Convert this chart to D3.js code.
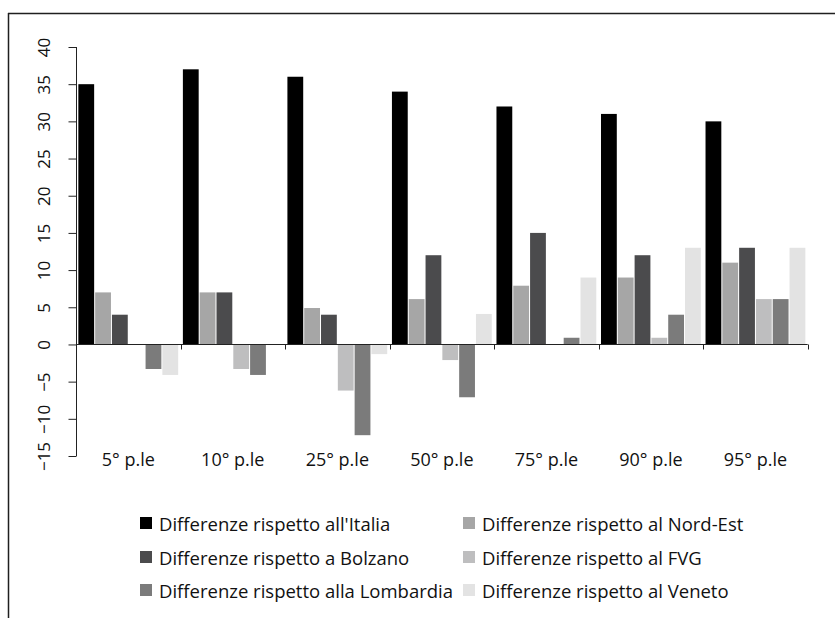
<!DOCTYPE html>
<html>
<head>
<meta charset="utf-8">
<script src="https://cdn.jsdelivr.net/npm/d3@7"></script>
<style>
  html, body { margin: 0; padding: 0; background: #fff; }
  svg { display: block; font-family: "Open Sans", "Noto Sans", sans-serif; }
</style>
</head>
<body>
<svg id="chart" width="835" height="618"></svg>
<script>
// Percentile groups along the x axis
const categories = ["5° p.le", "10° p.le", "25° p.le", "50° p.le", "75° p.le", "90° p.le", "95° p.le"];

// One array per comparison series (values per percentile)
const seriesNames = [
  "Differenze rispetto all'Italia",
  "Differenze rispetto al Nord-Est",
  "Differenze rispetto a Bolzano",
  "Differenze rispetto al FVG",
  "Differenze rispetto alla Lombardia",
  "Differenze rispetto al Veneto"
];
const italia    = [35, 37, 36, 34, 32, 31, 30];
const nordEst   = [7, 7, 4.9, 6.1, 7.9, 9, 11];
const bolzano   = [4, 7, 4, 12, 15, 12, 13];
const fvg       = [0, -3.3, -6.2, -2.1, 0, 0.9, 6.1];
const lombardia = [-3.3, -4.1, -12.2, -7.1, 0.9, 4, 6.1];
const veneto    = [-4.1, 0, -1.3, 4.1, 9, 13, 13];
const seriesColors = ["#000000", "#a6a6a6", "#4b4b4d", "#bebebf", "#7b7b7b", "#e3e3e3"];

const yTicks = [-15, -10, -5, 0, 5, 10, 15, 20, 25, 30, 35, 40];

const seriesValues = [italia, nordEst, bolzano, fvg, lombardia, veneto];

const svg = d3.select("#chart");

// Frame (top and left edges)
svg.append("line").attr("x1", 8).attr("x2", 835).attr("y1", 13.5).attr("y2", 13.5)
  .attr("stroke", "#1f1f1f").attr("stroke-width", 1.5);
svg.append("line").attr("x1", 8.5).attr("x2", 8.5).attr("y1", 13).attr("y2", 618)
  .attr("stroke", "#1f1f1f").attr("stroke-width", 1.5);

// Scales
const x0 = d3.scaleBand().domain(categories).range([76, 807.7]).padding(0);
const x1 = d3.scaleBand().domain(seriesNames).range([0, x0.bandwidth()])
  .paddingInner(0.06).paddingOuter(0.14);
const y = d3.scaleLinear().domain([-15, 40]).range([456, 47]);
const color = d3.scaleOrdinal().domain(seriesNames).range(seriesColors);

// Bars
const groups = svg.append("g").selectAll("g")
  .data(categories)
  .join("g")
  .attr("transform", d => `translate(${x0(d)},0)`);

groups.selectAll("rect")
  .data((c, i) => seriesNames.map((s, k) => ({ s, v: seriesValues[k][i] })))
  .join("rect")
  .attr("x", d => x1(d.s))
  .attr("width", x1.bandwidth())
  .attr("y", d => y(Math.max(0, d.v)))
  .attr("height", d => Math.abs(y(d.v) - y(0)))
  .attr("fill", d => color(d.s));

// Y axis
const yAxis = svg.append("g")
  .attr("transform", "translate(76.5,0)")
  .call(d3.axisLeft(y).tickValues(yTicks).tickSize(8).tickPadding(0).tickFormat(d3.format("d")));
yAxis.select(".domain").attr("stroke", "#222").attr("d", `M0,${y(-15)}V${y(40)}`);
yAxis.selectAll(".tick line").attr("stroke", "#222");
yAxis.selectAll(".tick text")
  .attr("x", null).attr("dy", null)
  .attr("transform", "translate(-26.5,0) rotate(-90)")
  .attr("text-anchor", "middle")
  .attr("font-size", 17)
  .attr("font-family", "'Open Sans', sans-serif")
  .attr("fill", "#111");

// X axis at zero with boundary ticks
const zeroY = Math.round(y(0)) + 0.5;
svg.append("line").attr("x1", 76).attr("x2", 807.7).attr("y1", zeroY).attr("y2", zeroY)
  .attr("stroke", "#222");
const bounds = categories.map(c => x0(c)).concat([x0.range()[1]]);
svg.append("g").selectAll("line")
  .data(bounds)
  .join("line")
  .attr("x1", d => Math.round(d) + 0.5).attr("x2", d => Math.round(d) + 0.5)
  .attr("y1", zeroY).attr("y2", zeroY + 5)
  .attr("stroke", "#222");

// Category labels below the plot
svg.append("g").selectAll("text")
  .data(categories)
  .join("text")
  .attr("x", d => x0(d) + x0.bandwidth() / 2)
  .attr("y", 466)
  .attr("text-anchor", "middle")
  .attr("font-size", 18)
  .attr("fill", "#111")
  .text(d => d);

// Legend: two columns, three rows
const legendCols = [140, 463];
const legendRows = [517, 551, 584];
const legend = svg.append("g").selectAll("g")
  .data(seriesNames)
  .join("g")
  .attr("transform", (d, i) => `translate(${legendCols[i % 2]},${legendRows[Math.floor(i / 2)]})`);
legend.append("rect")
  .attr("width", 12).attr("height", 12)
  .attr("fill", d => color(d));
legend.append("text")
  .attr("x", 19).attr("y", 14)
  .attr("font-size", 18.5)
  .attr("fill", "#111")
  .text(d => d);
</script>
</body>
</html>
